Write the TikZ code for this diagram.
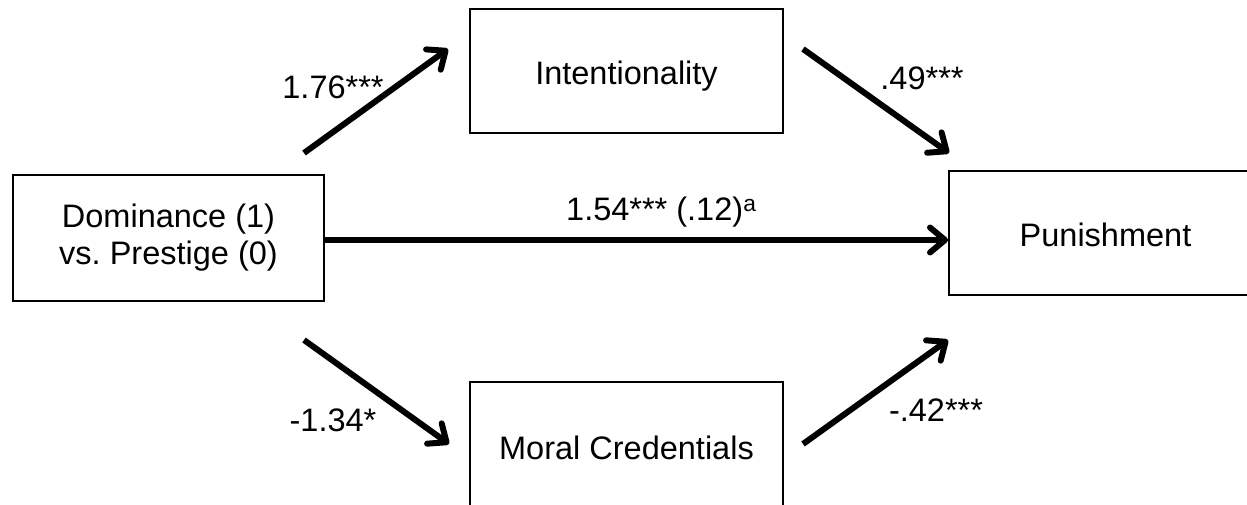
\documentclass[tikz,border=0pt]{standalone}
\usepackage{fontspec}
\setmainfont{Liberation Sans}
\usetikzlibrary{arrows.meta}
\begin{document}
\begin{tikzpicture}[x=1pt,y=-1pt,
  box/.style={draw, line width=2pt, minimum width=313pt, minimum height=124pt, inner sep=0pt, align=center, font=\fontsize{32.5}{37}\selectfont},
  conn/.style={line width=6pt, -{Straight Barb[length=15pt,width=25pt,round]}},
  lbl/.style={font=\fontsize{32.5}{37}\selectfont, inner sep=0pt}]
\useasboundingbox (0,0) rectangle (1247,505);
\clip (0,0) rectangle (1247,505);
\node[box, minimum width=311pt, minimum height=126pt] (dom) at (168.5,238) {Dominance (1)\\vs.\ Prestige (0)};
\node[box, text height=34pt] (int) at (626.5,71) {Intentionality};
\node[box, text height=27pt] (pun) at (1105.5,233) {Punishment};
\node[box, text height=31pt] (mor) at (626.5,444) {Moral Credentials};
\coordinate (a1s) at (304,153); \coordinate (a1e) at (448,49);
\coordinate (a2s) at (803,49); \coordinate (a2e) at (949,153);
\coordinate (a4s) at (304,340); \coordinate (a4e) at (449,444);
\coordinate (a5s) at (803,444); \coordinate (a5e) at (948,340);
\coordinate (a3s) at (dom.east |- 0,240);
\draw[conn] (a1s) -- (a1e);
\draw[conn] (a2s) -- (a2e);
\draw[conn] (a3s) -- (pun.west |- a3s);
\draw[conn] (a4s) -- (a4e);
\draw[conn] (a5s) -- (a5e);
\node[lbl] (l1) at (333,87) {1.76***};
\node[lbl] (l2) at (922,78) {.49***};
\node[lbl, anchor=west] (l3) at (566,212) {1.54*** (.12)\textsuperscript{a}};
\node[lbl] (l4) at (333,420) {-1.34*};
\node[lbl] (l5) at (936,410) {-.42***};
\end{tikzpicture}
\end{document}
